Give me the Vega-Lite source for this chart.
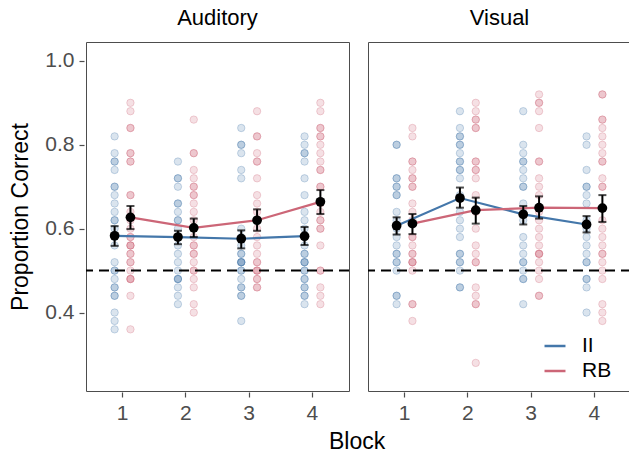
{
"$schema": "https://vega.github.io/schema/vega-lite/v6.json",
"background": "white",
"padding": {"left": 9, "top": 7, "right": 0, "bottom": 2},
"title": {"text": "Block", "orient": "bottom", "fontSize": 23, "fontWeight": "normal", "font": "Liberation Sans", "color": "black", "anchor": "middle", "offset": 8, "dx": 36},
"data": {"values": [
{"m":"Auditory","b":1,"g":"II","p":0.82},{"m":"Auditory","b":1,"g":"II","p":0.78},{"m":"Auditory","b":1,"g":"II","p":0.76},{"m":"Auditory","b":1,"g":"II","p":0.76},{"m":"Auditory","b":1,"g":"II","p":0.74},{"m":"Auditory","b":1,"g":"II","p":0.70},{"m":"Auditory","b":1,"g":"II","p":0.70},{"m":"Auditory","b":1,"g":"II","p":0.68},{"m":"Auditory","b":1,"g":"II","p":0.66},{"m":"Auditory","b":1,"g":"II","p":0.64},{"m":"Auditory","b":1,"g":"II","p":0.62},{"m":"Auditory","b":1,"g":"II","p":0.62},{"m":"Auditory","b":1,"g":"II","p":0.60},{"m":"Auditory","b":1,"g":"II","p":0.58},{"m":"Auditory","b":1,"g":"II","p":0.56},{"m":"Auditory","b":1,"g":"II","p":0.52},{"m":"Auditory","b":1,"g":"II","p":0.50},{"m":"Auditory","b":1,"g":"II","p":0.50},{"m":"Auditory","b":1,"g":"II","p":0.48},{"m":"Auditory","b":1,"g":"II","p":0.46},{"m":"Auditory","b":1,"g":"II","p":0.46},{"m":"Auditory","b":1,"g":"II","p":0.44},{"m":"Auditory","b":1,"g":"II","p":0.44},{"m":"Auditory","b":1,"g":"II","p":0.40},{"m":"Auditory","b":1,"g":"II","p":0.38},{"m":"Auditory","b":1,"g":"II","p":0.36},
{"m":"Auditory","b":1,"g":"RB","p":0.90},{"m":"Auditory","b":1,"g":"RB","p":0.88},{"m":"Auditory","b":1,"g":"RB","p":0.84},{"m":"Auditory","b":1,"g":"RB","p":0.84},{"m":"Auditory","b":1,"g":"RB","p":0.78},{"m":"Auditory","b":1,"g":"RB","p":0.78},{"m":"Auditory","b":1,"g":"RB","p":0.76},{"m":"Auditory","b":1,"g":"RB","p":0.76},{"m":"Auditory","b":1,"g":"RB","p":0.68},{"m":"Auditory","b":1,"g":"RB","p":0.68},{"m":"Auditory","b":1,"g":"RB","p":0.64},{"m":"Auditory","b":1,"g":"RB","p":0.62},{"m":"Auditory","b":1,"g":"RB","p":0.60},{"m":"Auditory","b":1,"g":"RB","p":0.58},{"m":"Auditory","b":1,"g":"RB","p":0.58},{"m":"Auditory","b":1,"g":"RB","p":0.56},{"m":"Auditory","b":1,"g":"RB","p":0.56},{"m":"Auditory","b":1,"g":"RB","p":0.56},{"m":"Auditory","b":1,"g":"RB","p":0.54},{"m":"Auditory","b":1,"g":"RB","p":0.54},{"m":"Auditory","b":1,"g":"RB","p":0.52},{"m":"Auditory","b":1,"g":"RB","p":0.52},{"m":"Auditory","b":1,"g":"RB","p":0.50},{"m":"Auditory","b":1,"g":"RB","p":0.48},{"m":"Auditory","b":1,"g":"RB","p":0.48},{"m":"Auditory","b":1,"g":"RB","p":0.48},{"m":"Auditory","b":1,"g":"RB","p":0.44},{"m":"Auditory","b":1,"g":"RB","p":0.36},
{"m":"Auditory","b":2,"g":"II","p":0.76},{"m":"Auditory","b":2,"g":"II","p":0.72},{"m":"Auditory","b":2,"g":"II","p":0.72},{"m":"Auditory","b":2,"g":"II","p":0.70},{"m":"Auditory","b":2,"g":"II","p":0.66},{"m":"Auditory","b":2,"g":"II","p":0.66},{"m":"Auditory","b":2,"g":"II","p":0.64},{"m":"Auditory","b":2,"g":"II","p":0.62},{"m":"Auditory","b":2,"g":"II","p":0.62},{"m":"Auditory","b":2,"g":"II","p":0.60},{"m":"Auditory","b":2,"g":"II","p":0.58},{"m":"Auditory","b":2,"g":"II","p":0.58},{"m":"Auditory","b":2,"g":"II","p":0.56},{"m":"Auditory","b":2,"g":"II","p":0.54},{"m":"Auditory","b":2,"g":"II","p":0.52},{"m":"Auditory","b":2,"g":"II","p":0.50},{"m":"Auditory","b":2,"g":"II","p":0.48},{"m":"Auditory","b":2,"g":"II","p":0.48},{"m":"Auditory","b":2,"g":"II","p":0.48},{"m":"Auditory","b":2,"g":"II","p":0.46},{"m":"Auditory","b":2,"g":"II","p":0.44},{"m":"Auditory","b":2,"g":"II","p":0.42},
{"m":"Auditory","b":2,"g":"RB","p":0.86},{"m":"Auditory","b":2,"g":"RB","p":0.78},{"m":"Auditory","b":2,"g":"RB","p":0.78},{"m":"Auditory","b":2,"g":"RB","p":0.74},{"m":"Auditory","b":2,"g":"RB","p":0.72},{"m":"Auditory","b":2,"g":"RB","p":0.70},{"m":"Auditory","b":2,"g":"RB","p":0.70},{"m":"Auditory","b":2,"g":"RB","p":0.68},{"m":"Auditory","b":2,"g":"RB","p":0.68},{"m":"Auditory","b":2,"g":"RB","p":0.66},{"m":"Auditory","b":2,"g":"RB","p":0.64},{"m":"Auditory","b":2,"g":"RB","p":0.62},{"m":"Auditory","b":2,"g":"RB","p":0.60},{"m":"Auditory","b":2,"g":"RB","p":0.58},{"m":"Auditory","b":2,"g":"RB","p":0.56},{"m":"Auditory","b":2,"g":"RB","p":0.56},{"m":"Auditory","b":2,"g":"RB","p":0.54},{"m":"Auditory","b":2,"g":"RB","p":0.54},{"m":"Auditory","b":2,"g":"RB","p":0.52},{"m":"Auditory","b":2,"g":"RB","p":0.50},{"m":"Auditory","b":2,"g":"RB","p":0.50},{"m":"Auditory","b":2,"g":"RB","p":0.48},{"m":"Auditory","b":2,"g":"RB","p":0.46},{"m":"Auditory","b":2,"g":"RB","p":0.42},{"m":"Auditory","b":2,"g":"RB","p":0.40},
{"m":"Auditory","b":3,"g":"II","p":0.84},{"m":"Auditory","b":3,"g":"II","p":0.80},{"m":"Auditory","b":3,"g":"II","p":0.80},{"m":"Auditory","b":3,"g":"II","p":0.78},{"m":"Auditory","b":3,"g":"II","p":0.74},{"m":"Auditory","b":3,"g":"II","p":0.72},{"m":"Auditory","b":3,"g":"II","p":0.60},{"m":"Auditory","b":3,"g":"II","p":0.58},{"m":"Auditory","b":3,"g":"II","p":0.56},{"m":"Auditory","b":3,"g":"II","p":0.54},{"m":"Auditory","b":3,"g":"II","p":0.54},{"m":"Auditory","b":3,"g":"II","p":0.52},{"m":"Auditory","b":3,"g":"II","p":0.52},{"m":"Auditory","b":3,"g":"II","p":0.52},{"m":"Auditory","b":3,"g":"II","p":0.52},{"m":"Auditory","b":3,"g":"II","p":0.50},{"m":"Auditory","b":3,"g":"II","p":0.50},{"m":"Auditory","b":3,"g":"II","p":0.48},{"m":"Auditory","b":3,"g":"II","p":0.46},{"m":"Auditory","b":3,"g":"II","p":0.46},{"m":"Auditory","b":3,"g":"II","p":0.44},{"m":"Auditory","b":3,"g":"II","p":0.44},{"m":"Auditory","b":3,"g":"II","p":0.38},
{"m":"Auditory","b":3,"g":"RB","p":0.88},{"m":"Auditory","b":3,"g":"RB","p":0.82},{"m":"Auditory","b":3,"g":"RB","p":0.82},{"m":"Auditory","b":3,"g":"RB","p":0.78},{"m":"Auditory","b":3,"g":"RB","p":0.76},{"m":"Auditory","b":3,"g":"RB","p":0.76},{"m":"Auditory","b":3,"g":"RB","p":0.72},{"m":"Auditory","b":3,"g":"RB","p":0.68},{"m":"Auditory","b":3,"g":"RB","p":0.66},{"m":"Auditory","b":3,"g":"RB","p":0.64},{"m":"Auditory","b":3,"g":"RB","p":0.62},{"m":"Auditory","b":3,"g":"RB","p":0.60},{"m":"Auditory","b":3,"g":"RB","p":0.58},{"m":"Auditory","b":3,"g":"RB","p":0.56},{"m":"Auditory","b":3,"g":"RB","p":0.54},{"m":"Auditory","b":3,"g":"RB","p":0.52},{"m":"Auditory","b":3,"g":"RB","p":0.52},{"m":"Auditory","b":3,"g":"RB","p":0.50},{"m":"Auditory","b":3,"g":"RB","p":0.50},{"m":"Auditory","b":3,"g":"RB","p":0.50},{"m":"Auditory","b":3,"g":"RB","p":0.48},{"m":"Auditory","b":3,"g":"RB","p":0.48},{"m":"Auditory","b":3,"g":"RB","p":0.46},{"m":"Auditory","b":3,"g":"RB","p":0.46},
{"m":"Auditory","b":4,"g":"II","p":0.82},{"m":"Auditory","b":4,"g":"II","p":0.80},{"m":"Auditory","b":4,"g":"II","p":0.78},{"m":"Auditory","b":4,"g":"II","p":0.78},{"m":"Auditory","b":4,"g":"II","p":0.76},{"m":"Auditory","b":4,"g":"II","p":0.72},{"m":"Auditory","b":4,"g":"II","p":0.68},{"m":"Auditory","b":4,"g":"II","p":0.64},{"m":"Auditory","b":4,"g":"II","p":0.62},{"m":"Auditory","b":4,"g":"II","p":0.60},{"m":"Auditory","b":4,"g":"II","p":0.58},{"m":"Auditory","b":4,"g":"II","p":0.56},{"m":"Auditory","b":4,"g":"II","p":0.54},{"m":"Auditory","b":4,"g":"II","p":0.54},{"m":"Auditory","b":4,"g":"II","p":0.52},{"m":"Auditory","b":4,"g":"II","p":0.52},{"m":"Auditory","b":4,"g":"II","p":0.52},{"m":"Auditory","b":4,"g":"II","p":0.50},{"m":"Auditory","b":4,"g":"II","p":0.50},{"m":"Auditory","b":4,"g":"II","p":0.48},{"m":"Auditory","b":4,"g":"II","p":0.48},{"m":"Auditory","b":4,"g":"II","p":0.46},{"m":"Auditory","b":4,"g":"II","p":0.46},{"m":"Auditory","b":4,"g":"II","p":0.44},{"m":"Auditory","b":4,"g":"II","p":0.44},{"m":"Auditory","b":4,"g":"II","p":0.42},
{"m":"Auditory","b":4,"g":"RB","p":0.90},{"m":"Auditory","b":4,"g":"RB","p":0.88},{"m":"Auditory","b":4,"g":"RB","p":0.84},{"m":"Auditory","b":4,"g":"RB","p":0.84},{"m":"Auditory","b":4,"g":"RB","p":0.82},{"m":"Auditory","b":4,"g":"RB","p":0.82},{"m":"Auditory","b":4,"g":"RB","p":0.80},{"m":"Auditory","b":4,"g":"RB","p":0.78},{"m":"Auditory","b":4,"g":"RB","p":0.76},{"m":"Auditory","b":4,"g":"RB","p":0.74},{"m":"Auditory","b":4,"g":"RB","p":0.74},{"m":"Auditory","b":4,"g":"RB","p":0.70},{"m":"Auditory","b":4,"g":"RB","p":0.70},{"m":"Auditory","b":4,"g":"RB","p":0.66},{"m":"Auditory","b":4,"g":"RB","p":0.64},{"m":"Auditory","b":4,"g":"RB","p":0.62},{"m":"Auditory","b":4,"g":"RB","p":0.62},{"m":"Auditory","b":4,"g":"RB","p":0.60},{"m":"Auditory","b":4,"g":"RB","p":0.60},{"m":"Auditory","b":4,"g":"RB","p":0.56},{"m":"Auditory","b":4,"g":"RB","p":0.50},{"m":"Auditory","b":4,"g":"RB","p":0.50},{"m":"Auditory","b":4,"g":"RB","p":0.46},{"m":"Auditory","b":4,"g":"RB","p":0.44},{"m":"Auditory","b":4,"g":"RB","p":0.42},
{"m":"Visual","b":1,"g":"II","p":0.80},{"m":"Visual","b":1,"g":"II","p":0.80},{"m":"Visual","b":1,"g":"II","p":0.72},{"m":"Visual","b":1,"g":"II","p":0.72},{"m":"Visual","b":1,"g":"II","p":0.70},{"m":"Visual","b":1,"g":"II","p":0.70},{"m":"Visual","b":1,"g":"II","p":0.68},{"m":"Visual","b":1,"g":"II","p":0.68},{"m":"Visual","b":1,"g":"II","p":0.64},{"m":"Visual","b":1,"g":"II","p":0.62},{"m":"Visual","b":1,"g":"II","p":0.60},{"m":"Visual","b":1,"g":"II","p":0.58},{"m":"Visual","b":1,"g":"II","p":0.56},{"m":"Visual","b":1,"g":"II","p":0.54},{"m":"Visual","b":1,"g":"II","p":0.54},{"m":"Visual","b":1,"g":"II","p":0.52},{"m":"Visual","b":1,"g":"II","p":0.52},{"m":"Visual","b":1,"g":"II","p":0.50},{"m":"Visual","b":1,"g":"II","p":0.44},{"m":"Visual","b":1,"g":"II","p":0.44},{"m":"Visual","b":1,"g":"II","p":0.42},
{"m":"Visual","b":1,"g":"RB","p":0.84},{"m":"Visual","b":1,"g":"RB","p":0.82},{"m":"Visual","b":1,"g":"RB","p":0.76},{"m":"Visual","b":1,"g":"RB","p":0.76},{"m":"Visual","b":1,"g":"RB","p":0.74},{"m":"Visual","b":1,"g":"RB","p":0.72},{"m":"Visual","b":1,"g":"RB","p":0.72},{"m":"Visual","b":1,"g":"RB","p":0.70},{"m":"Visual","b":1,"g":"RB","p":0.70},{"m":"Visual","b":1,"g":"RB","p":0.66},{"m":"Visual","b":1,"g":"RB","p":0.64},{"m":"Visual","b":1,"g":"RB","p":0.62},{"m":"Visual","b":1,"g":"RB","p":0.58},{"m":"Visual","b":1,"g":"RB","p":0.58},{"m":"Visual","b":1,"g":"RB","p":0.56},{"m":"Visual","b":1,"g":"RB","p":0.54},{"m":"Visual","b":1,"g":"RB","p":0.54},{"m":"Visual","b":1,"g":"RB","p":0.52},{"m":"Visual","b":1,"g":"RB","p":0.52},{"m":"Visual","b":1,"g":"RB","p":0.52},{"m":"Visual","b":1,"g":"RB","p":0.50},{"m":"Visual","b":1,"g":"RB","p":0.42},{"m":"Visual","b":1,"g":"RB","p":0.42},{"m":"Visual","b":1,"g":"RB","p":0.38},
{"m":"Visual","b":2,"g":"II","p":0.88},{"m":"Visual","b":2,"g":"II","p":0.84},{"m":"Visual","b":2,"g":"II","p":0.82},{"m":"Visual","b":2,"g":"II","p":0.82},{"m":"Visual","b":2,"g":"II","p":0.80},{"m":"Visual","b":2,"g":"II","p":0.80},{"m":"Visual","b":2,"g":"II","p":0.78},{"m":"Visual","b":2,"g":"II","p":0.76},{"m":"Visual","b":2,"g":"II","p":0.76},{"m":"Visual","b":2,"g":"II","p":0.74},{"m":"Visual","b":2,"g":"II","p":0.74},{"m":"Visual","b":2,"g":"II","p":0.72},{"m":"Visual","b":2,"g":"II","p":0.68},{"m":"Visual","b":2,"g":"II","p":0.64},{"m":"Visual","b":2,"g":"II","p":0.62},{"m":"Visual","b":2,"g":"II","p":0.60},{"m":"Visual","b":2,"g":"II","p":0.58},{"m":"Visual","b":2,"g":"II","p":0.54},{"m":"Visual","b":2,"g":"II","p":0.54},{"m":"Visual","b":2,"g":"II","p":0.52},{"m":"Visual","b":2,"g":"II","p":0.52},{"m":"Visual","b":2,"g":"II","p":0.50},{"m":"Visual","b":2,"g":"II","p":0.46},{"m":"Visual","b":2,"g":"II","p":0.46},
{"m":"Visual","b":2,"g":"RB","p":0.90},{"m":"Visual","b":2,"g":"RB","p":0.88},{"m":"Visual","b":2,"g":"RB","p":0.86},{"m":"Visual","b":2,"g":"RB","p":0.86},{"m":"Visual","b":2,"g":"RB","p":0.84},{"m":"Visual","b":2,"g":"RB","p":0.84},{"m":"Visual","b":2,"g":"RB","p":0.76},{"m":"Visual","b":2,"g":"RB","p":0.76},{"m":"Visual","b":2,"g":"RB","p":0.74},{"m":"Visual","b":2,"g":"RB","p":0.74},{"m":"Visual","b":2,"g":"RB","p":0.72},{"m":"Visual","b":2,"g":"RB","p":0.68},{"m":"Visual","b":2,"g":"RB","p":0.64},{"m":"Visual","b":2,"g":"RB","p":0.60},{"m":"Visual","b":2,"g":"RB","p":0.56},{"m":"Visual","b":2,"g":"RB","p":0.54},{"m":"Visual","b":2,"g":"RB","p":0.52},{"m":"Visual","b":2,"g":"RB","p":0.52},{"m":"Visual","b":2,"g":"RB","p":0.46},{"m":"Visual","b":2,"g":"RB","p":0.44},{"m":"Visual","b":2,"g":"RB","p":0.42},{"m":"Visual","b":2,"g":"RB","p":0.42},{"m":"Visual","b":2,"g":"RB","p":0.28},
{"m":"Visual","b":3,"g":"II","p":0.88},{"m":"Visual","b":3,"g":"II","p":0.80},{"m":"Visual","b":3,"g":"II","p":0.78},{"m":"Visual","b":3,"g":"II","p":0.76},{"m":"Visual","b":3,"g":"II","p":0.76},{"m":"Visual","b":3,"g":"II","p":0.74},{"m":"Visual","b":3,"g":"II","p":0.72},{"m":"Visual","b":3,"g":"II","p":0.70},{"m":"Visual","b":3,"g":"II","p":0.70},{"m":"Visual","b":3,"g":"II","p":0.66},{"m":"Visual","b":3,"g":"II","p":0.64},{"m":"Visual","b":3,"g":"II","p":0.62},{"m":"Visual","b":3,"g":"II","p":0.58},{"m":"Visual","b":3,"g":"II","p":0.56},{"m":"Visual","b":3,"g":"II","p":0.54},{"m":"Visual","b":3,"g":"II","p":0.52},{"m":"Visual","b":3,"g":"II","p":0.52},{"m":"Visual","b":3,"g":"II","p":0.50},{"m":"Visual","b":3,"g":"II","p":0.48},{"m":"Visual","b":3,"g":"II","p":0.48},{"m":"Visual","b":3,"g":"II","p":0.42},
{"m":"Visual","b":3,"g":"RB","p":0.92},{"m":"Visual","b":3,"g":"RB","p":0.90},{"m":"Visual","b":3,"g":"RB","p":0.90},{"m":"Visual","b":3,"g":"RB","p":0.88},{"m":"Visual","b":3,"g":"RB","p":0.84},{"m":"Visual","b":3,"g":"RB","p":0.76},{"m":"Visual","b":3,"g":"RB","p":0.76},{"m":"Visual","b":3,"g":"RB","p":0.72},{"m":"Visual","b":3,"g":"RB","p":0.70},{"m":"Visual","b":3,"g":"RB","p":0.68},{"m":"Visual","b":3,"g":"RB","p":0.64},{"m":"Visual","b":3,"g":"RB","p":0.62},{"m":"Visual","b":3,"g":"RB","p":0.60},{"m":"Visual","b":3,"g":"RB","p":0.58},{"m":"Visual","b":3,"g":"RB","p":0.56},{"m":"Visual","b":3,"g":"RB","p":0.54},{"m":"Visual","b":3,"g":"RB","p":0.54},{"m":"Visual","b":3,"g":"RB","p":0.54},{"m":"Visual","b":3,"g":"RB","p":0.52},{"m":"Visual","b":3,"g":"RB","p":0.50},{"m":"Visual","b":3,"g":"RB","p":0.48},{"m":"Visual","b":3,"g":"RB","p":0.44},{"m":"Visual","b":3,"g":"RB","p":0.44},
{"m":"Visual","b":4,"g":"II","p":0.82},{"m":"Visual","b":4,"g":"II","p":0.80},{"m":"Visual","b":4,"g":"II","p":0.74},{"m":"Visual","b":4,"g":"II","p":0.70},{"m":"Visual","b":4,"g":"II","p":0.70},{"m":"Visual","b":4,"g":"II","p":0.68},{"m":"Visual","b":4,"g":"II","p":0.66},{"m":"Visual","b":4,"g":"II","p":0.62},{"m":"Visual","b":4,"g":"II","p":0.60},{"m":"Visual","b":4,"g":"II","p":0.58},{"m":"Visual","b":4,"g":"II","p":0.56},{"m":"Visual","b":4,"g":"II","p":0.54},{"m":"Visual","b":4,"g":"II","p":0.52},{"m":"Visual","b":4,"g":"II","p":0.52},{"m":"Visual","b":4,"g":"II","p":0.48},{"m":"Visual","b":4,"g":"II","p":0.48},{"m":"Visual","b":4,"g":"II","p":0.46},{"m":"Visual","b":4,"g":"II","p":0.40},
{"m":"Visual","b":4,"g":"RB","p":0.92},{"m":"Visual","b":4,"g":"RB","p":0.92},{"m":"Visual","b":4,"g":"RB","p":0.86},{"m":"Visual","b":4,"g":"RB","p":0.86},{"m":"Visual","b":4,"g":"RB","p":0.84},{"m":"Visual","b":4,"g":"RB","p":0.82},{"m":"Visual","b":4,"g":"RB","p":0.80},{"m":"Visual","b":4,"g":"RB","p":0.78},{"m":"Visual","b":4,"g":"RB","p":0.76},{"m":"Visual","b":4,"g":"RB","p":0.76},{"m":"Visual","b":4,"g":"RB","p":0.72},{"m":"Visual","b":4,"g":"RB","p":0.70},{"m":"Visual","b":4,"g":"RB","p":0.70},{"m":"Visual","b":4,"g":"RB","p":0.62},{"m":"Visual","b":4,"g":"RB","p":0.60},{"m":"Visual","b":4,"g":"RB","p":0.58},{"m":"Visual","b":4,"g":"RB","p":0.56},{"m":"Visual","b":4,"g":"RB","p":0.54},{"m":"Visual","b":4,"g":"RB","p":0.54},{"m":"Visual","b":4,"g":"RB","p":0.52},{"m":"Visual","b":4,"g":"RB","p":0.50},{"m":"Visual","b":4,"g":"RB","p":0.48},{"m":"Visual","b":4,"g":"RB","p":0.42},{"m":"Visual","b":4,"g":"RB","p":0.40},{"m":"Visual","b":4,"g":"RB","p":0.38},
{"m":"Auditory","b":1,"g":"II","k":"m","p":0.583,"lo":0.559,"hi":0.606},
{"m":"Auditory","b":1,"g":"RB","k":"m","p":0.627,"lo":0.599,"hi":0.654},
{"m":"Auditory","b":2,"g":"II","k":"m","p":0.580,"lo":0.563,"hi":0.595},
{"m":"Auditory","b":2,"g":"RB","k":"m","p":0.602,"lo":0.580,"hi":0.624},
{"m":"Auditory","b":3,"g":"II","k":"m","p":0.576,"lo":0.553,"hi":0.596},
{"m":"Auditory","b":3,"g":"RB","k":"m","p":0.620,"lo":0.595,"hi":0.646},
{"m":"Auditory","b":4,"g":"II","k":"m","p":0.582,"lo":0.561,"hi":0.604},
{"m":"Auditory","b":4,"g":"RB","k":"m","p":0.664,"lo":0.635,"hi":0.692},
{"m":"Visual","b":1,"g":"II","k":"m","p":0.607,"lo":0.586,"hi":0.627},
{"m":"Visual","b":1,"g":"RB","k":"m","p":0.612,"lo":0.587,"hi":0.635},
{"m":"Visual","b":2,"g":"II","k":"m","p":0.673,"lo":0.650,"hi":0.698},
{"m":"Visual","b":2,"g":"RB","k":"m","p":0.644,"lo":0.612,"hi":0.674},
{"m":"Visual","b":3,"g":"II","k":"m","p":0.634,"lo":0.610,"hi":0.654},
{"m":"Visual","b":3,"g":"RB","k":"m","p":0.650,"lo":0.624,"hi":0.677},
{"m":"Visual","b":4,"g":"II","k":"m","p":0.610,"lo":0.591,"hi":0.630},
{"m":"Visual","b":4,"g":"RB","k":"m","p":0.649,"lo":0.616,"hi":0.680}
]},
"facet": {"column": {"field": "m", "type": "nominal", "title": null, "header": {"labelFontSize": 22, "labelColor": "black", "labelFont": "Liberation Sans", "labelPadding": 11}}},
"spacing": 15,
"spec": {
"width": 263,
"height": 349,
"encoding": {
  "x": {"field": "b", "type": "ordinal", "title": null, "scale": {"paddingInner": 0, "paddingOuter": 0.077}, "axis": {"labelAngle": 0}},
  "xOffset": {"field": "g", "type": "nominal", "scale": {"domain": ["II", "RB"], "paddingInner": 0, "paddingOuter": 1.5}},
  "y": {"field": "p", "type": "quantitative", "title": "Proportion Correct", "scale": {"domain": [0.213, 1.045], "nice": false, "zero": false}, "axis": {"values": [0.4, 0.6, 0.8, 1.0], "format": ".1f"}}
},
"layer": [
  {"transform": [{"filter": "!datum.k"}],
   "mark": {"type": "circle", "size": 55, "fillOpacity": 0.2, "strokeOpacity": 0.28, "strokeWidth": 1},
   "encoding": {
     "color": {"field": "g", "type": "nominal", "scale": {"domain": ["II", "RB"], "range": ["#4477AA", "#CC6677"]}, "legend": {"orient": "none", "legendX": 457, "legendY": 292, "title": null, "labelFontSize": 21, "labelFont": "Liberation Sans", "labelColor": "black", "symbolType": "stroke", "symbolStrokeWidth": 2.5, "symbolSize": 440, "symbolOpacity": 1, "rowPadding": 3, "labelOffset": 15}},
     "stroke": {"field": "g", "type": "nominal", "scale": {"domain": ["II", "RB"], "range": ["#4477AA", "#CC6677"]}, "legend": null}
   }},
  {"transform": [{"filter": "datum.k == 'm' && datum.b == 1 && datum.g == 'II'"}],
   "mark": {"type": "rule", "color": "black", "strokeWidth": 2, "strokeDash": [10, 6]},
   "encoding": {"x": null, "xOffset": null, "y": {"datum": 0.5, "type": "quantitative"}}},
  {"transform": [{"filter": "datum.k == 'm'"}],
   "mark": {"type": "line", "strokeWidth": 2.2},
   "encoding": {"color": {"field": "g", "type": "nominal", "scale": {"domain": ["II", "RB"], "range": ["#4477AA", "#CC6677"]}}}},
  {"transform": [{"filter": "datum.k == 'm'"}],
   "mark": {"type": "rule", "color": "black", "strokeWidth": 2},
   "encoding": {"y": {"field": "lo", "type": "quantitative", "title": "Proportion Correct"}, "y2": {"field": "hi"}}},
  {"transform": [{"filter": "datum.k == 'm'"}],
   "mark": {"type": "tick", "color": "black", "thickness": 2, "size": 8, "orient": "horizontal"},
   "encoding": {"y": {"field": "lo", "type": "quantitative", "title": "Proportion Correct"}}},
  {"transform": [{"filter": "datum.k == 'm'"}],
   "mark": {"type": "tick", "color": "black", "thickness": 2, "size": 8, "orient": "horizontal"},
   "encoding": {"y": {"field": "hi", "type": "quantitative", "title": "Proportion Correct"}}},
  {"transform": [{"filter": "datum.k == 'm'"}],
   "mark": {"type": "circle", "size": 95, "color": "black", "opacity": 1}}
]
},
"config": {
  "font": "Liberation Sans",
  "view": {"stroke": "#4d4d4d", "strokeWidth": 1},
  "axis": {"grid": false, "domain": false, "tickColor": "#4d4d4d", "tickSize": 5, "tickWidth": 1.2, "labelFontSize": 21, "labelColor": "#4d4d4d", "labelFont": "Liberation Sans", "labelPadding": 5, "titleFontSize": 23, "titleFontWeight": "normal", "titleColor": "black", "titleFont": "Liberation Sans", "titlePadding": 12},
  "legend": {"padding": 0}
}
}
